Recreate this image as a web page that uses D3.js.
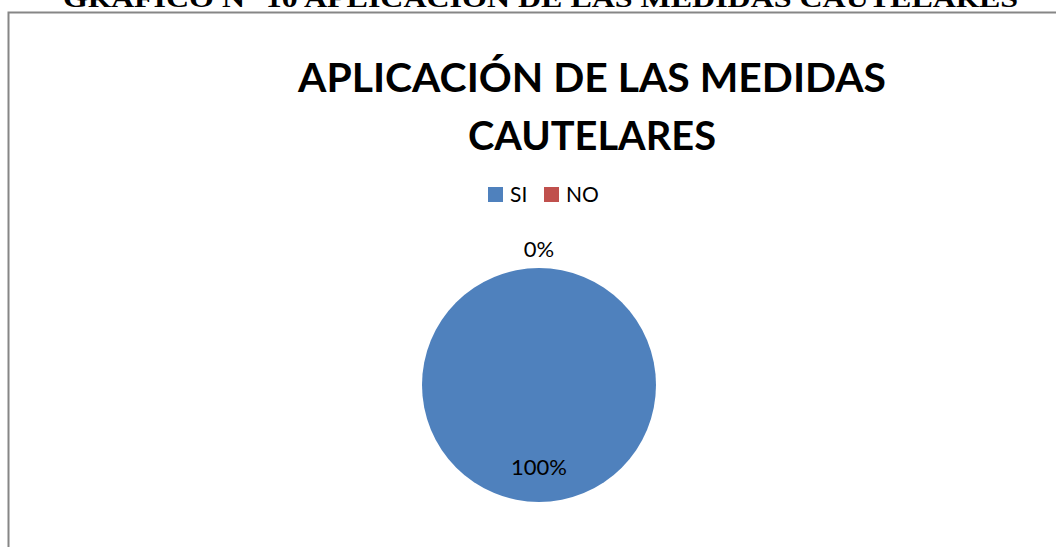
<!DOCTYPE html>
<html>
<head>
<meta charset="utf-8">
<script src="https://cdn.jsdelivr.net/npm/d3@7"></script>
<style>
  html, body { margin: 0; padding: 0; background: #ffffff; }
  svg { display: block; }
</style>
</head>
<body>
<svg id="chart" width="1056" height="547"></svg>
<script>
// ---- data ----
const categories = ["SI", "NO"];
const values = [100, 0];
const percentLabels = ["100%", "0%"];
const colors = ["#4F81BD", "#C0504D"];
const docTitle = "GRÁFICO N° 10 APLICACIÓN DE LAS MEDIDAS CAUTELARES";
const titleLines = ["APLICACIÓN DE LAS MEDIDAS", "CAUTELARES"];

const svg = d3.select("#chart");

// page title (cut off at top)
svg.append("text")
  .attr("x", 63).attr("y", 7)
  .attr("textLength", 955).attr("lengthAdjust", "spacingAndGlyphs")
  .style("font-family", "'Liberation Serif', 'Times New Roman', serif")
  .style("font-weight", "bold").style("font-size", "26px")
  .attr("fill", "#000")
  .text(docTitle);

// chart frame
svg.append("rect")
  .attr("x", 8.5).attr("y", 12.5)
  .attr("width", 1100).attr("height", 600)
  .attr("fill", "#ffffff")
  .attr("stroke", "#868686").attr("stroke-width", 2);

// chart title
const titleWidths = [588, 248];
const titleBaselines = [92, 150];
svg.selectAll("text.ctitle").data(titleLines).enter().append("text")
  .attr("class", "ctitle")
  .attr("x", 592).attr("y", (d, i) => titleBaselines[i])
  .attr("text-anchor", "middle")
  .attr("textLength", (d, i) => titleWidths[i]).attr("lengthAdjust", "spacingAndGlyphs")
  .style("font-family", "Lato, 'Open Sans', sans-serif")
  .style("font-weight", "bold").style("font-size", "40px")
  .attr("fill", "#000")
  .text(d => d);

// legend
const legendX = [488, 544];
const lg = svg.selectAll("g.leg").data(categories).enter().append("g")
  .attr("class", "leg")
  .attr("transform", (d, i) => `translate(${legendX[i]},187)`);
lg.append("rect").attr("width", 15).attr("height", 15).attr("fill", (d, i) => colors[i]);
lg.append("text").attr("x", 22).attr("y", 15)
  .style("font-family", "Lato, 'Open Sans', sans-serif").style("font-size", "21px")
  .attr("fill", "#000").text(d => d);

// pie
const cx = 539, cy = 385, r = 117;
const pie = d3.pie().sort(null).value(d => d)(values);
const arc = d3.arc().innerRadius(0).outerRadius(r);
const g = svg.append("g").attr("transform", `translate(${cx},${cy})`);
g.selectAll("path").data(pie).enter().append("path")
  .attr("d", arc).attr("fill", (d, i) => colors[i]);

const inLabel = d3.arc().innerRadius(r * 0.7).outerRadius(r * 0.7);
const outLabel = d3.arc().innerRadius(r * 1.16).outerRadius(r * 1.16);
g.selectAll("text.lbl").data(pie).enter().append("text")
  .attr("class", "lbl")
  .attr("transform", d => {
    const c = (d.endAngle - d.startAngle) > 0.5 ? inLabel.centroid(d) : outLabel.centroid(d);
    return `translate(${c[0]},${c[1]})`;
  })
  .attr("text-anchor", "middle").attr("dy", "0.36em")
  .style("font-family", "Lato, 'Open Sans', sans-serif").style("font-size", "22px")
  .attr("fill", "#000")
  .text((d, i) => percentLabels[i]);
</script>
</body>
</html>
